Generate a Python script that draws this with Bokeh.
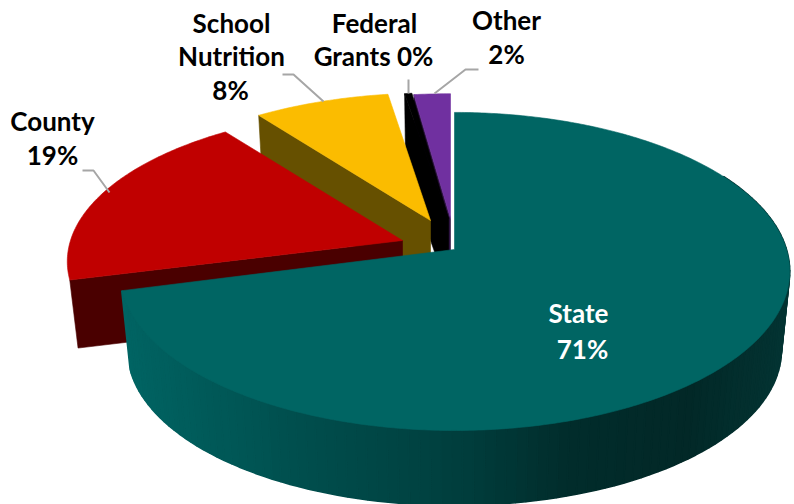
import math
from bokeh.plotting import figure
from bokeh.embed import file_html
from bokeh.resources import INLINE
from bokeh.core.properties import value

# Budget shares by funding source, in percent
sources = ["State", "County", "School Nutrition", "Federal Grants", "Other"]
shares = [70.9, 19.0, 7.7, 0.4, 2.0]
top_colors = ["#006563", "#C00000", "#FBBC00", "#000000", "#7030A0"]
cut_colors = ["#003D3D", "#4A0000", "#665000", "#000000", "#2D1340"]

# Where each exploded wedge's tip sits on the page, and its size relative to the main wedge
tips = [(454, 249), (402, 240), (430, 220), (448, 218), (450, 218)]
x_scales = [1.0, 1.0, 0.97, 1.0, 1.0]
y_scales = [1.0, 0.96, 0.93, 0.92, 0.91]
depths = [79.5, 69.0, 73.0, 73.0, 73.0]

# Camera: perspective strength and the pie's projected half-axes
K = 0.138
AX = 332.0
BY = 156.0
SHRINK = 0.975


def project(deg, i):
    t = math.radians(deg)
    u, v = math.sin(t), math.cos(t)
    d = 1 + K * v
    return tips[i][0] + x_scales[i] * AX * u / d, tips[i][1] - y_scales[i] * BY * v / d


def lower(pt, i):
    tip = tips[i]
    return tip[0] + SHRINK * (pt[0] - tip[0]), tip[1] + SHRINK * (pt[1] - tip[1]) + depths[i]


def lerp_color(stops, x):
    for (x0, c0), (x1, c1) in zip(stops, stops[1:]):
        if x <= x1:
            f = max(0.0, (x - x0) / (x1 - x0))
            return "#%02x%02x%02x" % tuple(round(a + (b - a) * f) for a, b in zip(c0, c1))
    return "#%02x%02x%02x" % stops[-1][1]


rim_shade = [
    (120, (0, 100, 99)),
    (300, (0, 78, 77)),
    (460, (0, 62, 61)),
    (570, (1, 44, 43)),
    (690, (2, 40, 39)),
    (790, (3, 52, 51)),
]

p = figure(width=794, height=504, x_range=(0, 794), y_range=(504, 0),
           toolbar_location=None, output_backend="svg", min_border=0)
p.grid.visible = False
p.outline_line_color = None
p.xaxis.visible = False
p.yaxis.visible = False

bounds = []
run = 0.0
for s in shares:
    bounds.append((run * 3.6, (run + s) * 3.6))
    run += s


def wedge_outline(i):
    a, b = bounds[i]
    n = max(4, int((b - a) * 1.5))
    return [project(a + (b - a) * j / n, i) for j in range(n + 1)]


def fill(pts, color, width=0.6):
    p.patch([q[0] for q in pts], [q[1] for q in pts], fill_color=color,
            line_color=color, line_width=width)


# Back-to-front: the smaller wedges first, the State wedge last
for i in [4, 3, 2, 1]:
    tip = tips[i]
    corner = project(bounds[i][0], i)
    fill([tip, corner, lower(corner, i), lower(tip, i)], cut_colors[i])
    fill([tip] + wedge_outline(i), top_colors[i])

# Outer rim of the State wedge, shaded from left to right
a, b = 60.0, bounds[0][1]
steps = 120
for j in range(steps):
    d0 = a + (b - a) * j / steps
    d1 = a + (b - a) * (j + 1) / steps
    q0, q1 = project(d0, 0), project(d1, 0)
    r0, r1 = lower(q0, 0), lower(q1, 0)
    fill([q0, q1, r1, r0], lerp_color(rim_shade, (q0[0] + q1[0]) / 2), width=1.6)
fill([tips[0]] + wedge_outline(0), top_colors[0])

# Leader lines
leaders = [
    ([82, 93, 109], [170, 170, 192]),
    ([282, 293, 323], [74, 74, 101]),
    ([408, 408], [79, 93]),
    ([478, 465, 434], [69, 69, 93]),
]
for xs, ys in leaders:
    p.line(xs, ys, line_color="#A6A6A6", line_width=2)

# Labels, percentages rounded from the shares above
pct = [f"{round(s)}%" for s in shares]
labels = [
    ("County", 52, 120, "#000000"), (pct[1], 52, 154, "#000000"),
    ("School", 231, 22, "#000000"), ("Nutrition", 231, 55, "#000000"), (pct[2], 230, 89, "#000000"),
    ("Federal", 374, 22, "#000000"), (f"Grants {pct[3]}", 373, 55, "#000000"),
    ("Other", 506, 19, "#000000"), (pct[4], 506, 53, "#000000"),
    ("State", 578, 312, "#FFFFFF"), (pct[0], 582, 348, "#FFFFFF"),
]
for txt, x, y, col in labels:
    p.text([x], [y], text=[txt], text_font=value("Lato"), text_font_style="bold",
           text_font_size="26px", text_color=col, text_align="center", text_baseline="middle")

open("out.html", "w").write(file_html(p, INLINE))
